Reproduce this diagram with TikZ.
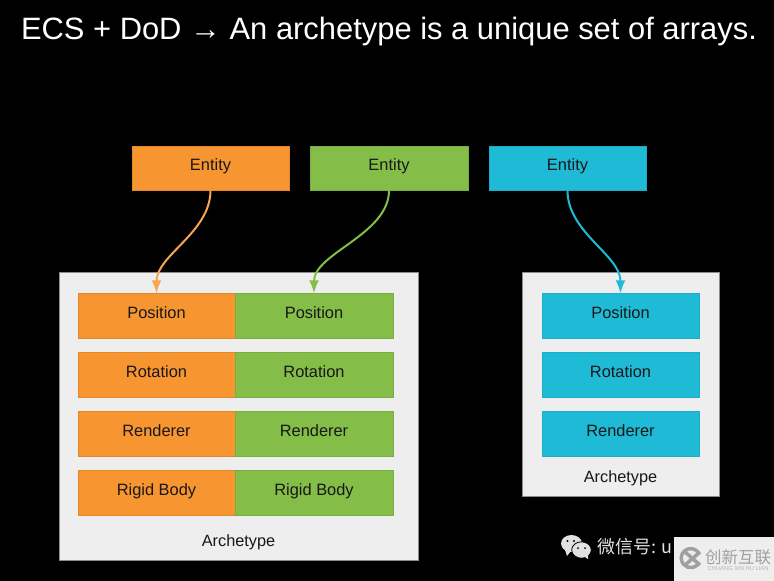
\documentclass[tikz,border=0pt]{standalone}
\usepackage{fontspec}
\setmainfont{Liberation Sans}
\newfontfamily\cjkmark{Noto Sans CJK SC}
\usetikzlibrary{positioning,arrows.meta,calc}
\definecolor{ArchOrange}{RGB}{247,149,48}
\definecolor{ArchGreen}{RGB}{132,189,71}
\definecolor{ArchTeal}{RGB}{31,186,214}
\definecolor{ArchPanel}{RGB}{238,238,238}
\definecolor{ArchInk}{RGB}{24,24,24}
\definecolor{MarkGrey}{RGB}{160,160,160}
\definecolor{MarkLight}{RGB}{225,225,225}
\tikzset{
  arch cell/.style={
    draw=#1!92!black,
    fill=#1,
    line width=0.5pt,
    outer sep=0pt,
    text=ArchInk,
    font=\fontsize{16.4}{18}\selectfont,
    text height=8pt,
    text depth=3pt,
    minimum width=157.5pt,
    minimum height=44.5pt
  },
  arch panel/.style={draw=black!45, fill=ArchPanel, line width=0.5pt, outer sep=0pt},
  arch label/.style={text=ArchInk, font=\fontsize{16.3}{18}\selectfont},
  arch arrow/.style={-{Latex[length=13pt,width=10pt]}, line width=2pt, #1}
}
\begin{document}
\begin{tikzpicture}[x=1pt,y=1pt,node distance=14.5pt and 21pt]
\fill[black] (0,0) rectangle (774,-581);
\useasboundingbox (0,0) rectangle (774,-581);
\node[text=white, font=\fontsize{30.9}{33}\selectfont] (title) at (389,-32) {ECS + DoD → An archetype is a unique set of arrays.};
% entities
\node[arch cell=ArchOrange] (entA) at (210.5,-168.2) {Entity};
\node[arch cell=ArchGreen, right=of entA] (entB) {Entity};
\node[arch cell=ArchTeal, right=of entB] (entC) {Entity};
% left archetype
\node[arch panel, minimum width=359pt, minimum height=288pt] (panL) at (238.5,-416) {};
\node[arch cell=ArchOrange] (posA) at (156.5,-315.5) {Position};
\node[arch cell=ArchOrange, below=of posA] (rotA) {Rotation};
\node[arch cell=ArchOrange, below=of rotA] (renA) {Renderer};
\node[arch cell=ArchOrange, below=of renA] (rigA) {Rigid Body};
\node[arch cell=ArchGreen, right=0pt of posA] (posB) {Position};
\node[arch cell=ArchGreen, right=0pt of rotA] (rotB) {Rotation};
\node[arch cell=ArchGreen, right=0pt of renA] (renB) {Renderer};
\node[arch cell=ArchGreen, right=0pt of rigA] (rigB) {Rigid Body};
\node[arch label] (nameL) at (238.5,-542) {Archetype};
% right archetype
\node[arch panel, minimum width=197pt, minimum height=224pt] (panR) at (620.5,-384) {};
\node[arch cell=ArchTeal] (posC) at (620.5,-315.5) {Position};
\node[arch cell=ArchTeal, below=of posC] (rotC) {Rotation};
\node[arch cell=ArchTeal, below=of rotC] (renC) {Renderer};
\node[arch label] (nameR) at (620.5,-478) {Archetype};
% entity to archetype
\draw[arch arrow=ArchOrange!85!white] (entA.south) .. controls +(0,-42) and +(0,38) .. (posA.north);
\draw[arch arrow=ArchGreen] (entB.south) .. controls +(0,-44) and +(0,40) .. (posB.north);
\draw[arch arrow=ArchTeal] (entC.south) .. controls +(0,-42) and +(0,38) .. (posC.north);
% watermark
\fill[MarkLight] (571.5,-543.5) ellipse (10.5 and 8.5);
\fill[MarkLight] (565,-550) -- (567,-556) -- (571,-551) -- cycle;
\fill[MarkLight, draw=black, line width=0.8pt] (581.5,-550) ellipse (9.8 and 8.2);
\fill[MarkLight] (585,-557) -- (588,-559) -- (588,-554) -- cycle;
\fill[black] (567.5,-541) circle (1.2) (574,-541) circle (1.2) (578,-548) circle (1) (585,-548) circle (1);
\node[text=MarkLight, font=\cjkmark\fontsize{18}{20}\selectfont, anchor=west, inner sep=0pt] (mark) at (597,-547) {微信号: u};
\node[fill=ArchPanel, outer sep=0pt, minimum width=100pt, minimum height=44pt] (markbox) at (724,-559) {};
\draw[MarkGrey, line width=3.5pt] (698,-552) arc (40:320:9.5);
\draw[MarkGrey, line width=3.5pt] (685,-552) -- (700,-565) (685,-565) -- (700,-552);
\node[text=MarkGrey, font=\cjkmark\fontsize{16.5}{18}\selectfont, inner sep=0pt] (markname) at (738,-557) {创新互联};
\node[text=MarkGrey!80, font=\fontsize{5.8}{6}\selectfont, inner sep=0pt] (marksub) at (738,-568) {CHUANG XIN HU LIAN};
\end{tikzpicture}
\end{document}
